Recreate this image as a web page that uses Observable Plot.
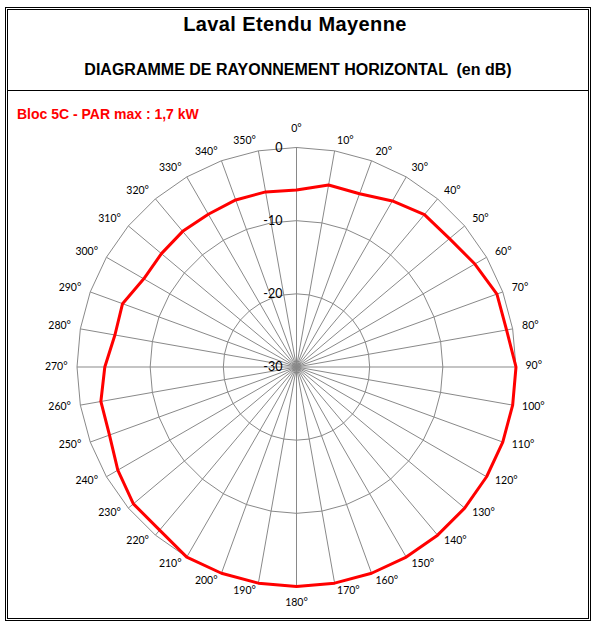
<!DOCTYPE html>
<html>
<head>
<meta charset="utf-8">
<script src="https://cdn.jsdelivr.net/npm/d3@7"></script>
<script src="https://cdn.jsdelivr.net/npm/@observablehq/plot@0.6"></script>
<style>
  html, body { margin: 0; padding: 0; background: #fff; }
  body { width: 596px; height: 628px; position: relative; overflow: hidden; font-family: "Liberation Sans", Arial, sans-serif; }
  #frame { position: absolute; left: 5px; top: 7px; width: 586px; height: 614px; box-sizing: border-box; border: 3px double #000; }
  #sep { position: absolute; left: 8px; top: 89.5px; width: 580px; height: 0; border-top: 1px solid #000; }
  .t { position: absolute; white-space: pre; color: #000; font-weight: bold; }
  #title { left: 0; width: 590px; top: 13.8px; font-size: 20px; line-height: 20px; text-align: center; letter-spacing: 0.4px; }
  #subtitle { left: 0; width: 596px; top: 61.5px; font-size: 16px; line-height: 16px; text-align: center; }
  #bloc { left: 17px; top: 107px; font-size: 14px; line-height: 14px; color: #ff0000; }
  #chart { position: absolute; left: 0; top: 120px; }
</style>
</head>
<body>
<div id="frame"></div>
<div id="sep"></div>
<div class="t" id="title">Laval Etendu Mayenne</div>
<div class="t" id="subtitle">DIAGRAMME DE RAYONNEMENT HORIZONTAL  (en dB)</div>
<div class="t" id="bloc">Bloc 5C - PAR max : 1,7 kW</div>
<div id="chart"></div>
<script>
// ---- data ----
const angles = [0,10,20,30,40,50,60,70,80,90,100,110,120,130,140,150,160,170,
                180,190,200,210,220,230,240,250,260,270,280,290,300,310,320,330,340,350];
const levels = [-5.8,-4.75,-4.8,-3.8,-2.8,-2.7,-1.85,-0.85,-0.85,0,0,0,0,0,0,0,0,0,
                0,0,0,0,-0.9,-0.9,-1.8,-2.8,-2.85,-3.8,-4.8,-4.7,-5.9,-5.9,-5.8,-5.9,-5.7,-5.7];
const angleLabels = angles.map(a => a + "°");
const ringLevels = [-20, -10, 0];
const valueTicks = [0, -10, -20, -30];
const minDb = -30;
const maxDb = 0;

// ---- helpers (polar -> cartesian in dB units) ----
const rad = d => d * Math.PI / 180;
const px = (deg, v) => (v - minDb) * Math.sin(rad(deg));
const py = (deg, v) => (v - minDb) * Math.cos(rad(deg));

const cx = 296, cy = 246.5, R = 219.5;
const k = R / (maxDb - minDb); // pixels per dB unit

const rings = ringLevels.flatMap(lv => [...angles, angles[0]].map(a => ({ring: lv, x: px(a, lv), y: py(a, lv)})));
const spokes = angles.map(a => ({x1: 0, y1: 0, x2: px(a, maxDb), y2: py(a, maxDb)}));
const curve = [...angles.map((a, i) => ({a, v: levels[i]})), {a: angles[0], v: levels[0]}]
  .map(d => ({x: px(d.a, d.v), y: py(d.a, d.v)}));

// category labels: placed just outside the end of each spoke (Excel-like placement)
const aLabels = angles.map((a, i) => {
  const s = Math.sin(rad(a)), c = Math.cos(rad(a));
  let anchor, ox, oy; // pixel offsets (screen: oy positive = down)
  if (Math.abs(s) < 1e-6) {
    anchor = "middle"; ox = 0; oy = c > 0 ? -18.5 : 16;
  } else {
    anchor = s > 0 ? "start" : "end";
    ox = Math.sign(s) * (1 + 8.5 * Math.abs(s));
    oy = c > 0 ? -1.5 - 8.5 * c : 7.5 * Math.abs(c);
  }
  return {x: px(a, maxDb) + ox / k, y: py(a, maxDb) - oy / k, t: angleLabels[i], anchor};
});
const vLabels = valueTicks.map(v => ({x: 0, y: v - minDb, t: String(v)}));

const labelFont = {fill: "#000", fontSize: 10.5, fontFamily: "Lato, sans-serif"};
const chart = Plot.plot({
  width: 596,
  height: 500,
  margin: 0,
  x: {domain: [-30, 30], range: [cx - R, cx + R], axis: null},
  y: {domain: [-30, 30], range: [cy + R, cy - R], axis: null},
  marks: [
    Plot.link(spokes, {x1: "x1", y1: "y1", x2: "x2", y2: "y2", stroke: "#898989", strokeWidth: 1}),
    Plot.line(rings, {x: "x", y: "y", z: "ring", stroke: "#898989", strokeWidth: 1, curve: "linear"}),
    Plot.line(curve, {x: "x", y: "y", stroke: "#ff0000", strokeWidth: 3, strokeLinejoin: "round", curve: "linear"}),
    Plot.text(aLabels.filter(d => d.anchor === "start"), {x: "x", y: "y", text: "t", textAnchor: "start", ...labelFont}),
    Plot.text(aLabels.filter(d => d.anchor === "end"), {x: "x", y: "y", text: "t", textAnchor: "end", ...labelFont}),
    Plot.text(aLabels.filter(d => d.anchor === "middle"), {x: "x", y: "y", text: "t", textAnchor: "middle", ...labelFont}),
    Plot.text(vLabels, {x: "x", y: "y", text: "t", dx: -14, textAnchor: "end", fill: "#000", fontSize: 12.5, fontFamily: "Lato, sans-serif"})
  ]
});
document.getElementById("chart").appendChild(chart);
</script>
</body>
</html>
